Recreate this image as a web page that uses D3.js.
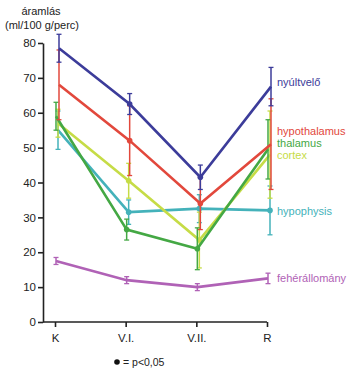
<!DOCTYPE html>
<html>
<head>
<meta charset="utf-8">
<script src="https://cdn.jsdelivr.net/npm/d3@7"></script>
<style>
  body { margin: 0; background: #fff; }
  svg { font-family: "Liberation Sans", Arial, sans-serif; }
</style>
</head>
<body>
<div id="chart"></div>
<script>
// time points
const categories = ["K", "V.I.", "V.II.", "R"];
const yTicks = [0, 10, 20, 30, 40, 50, 60, 70, 80];

// means and error (± values) per region
const seriesNames = ["fehérállomány", "hypophysis", "cortex", "thalamus", "hypothalamus", "nyúltvelő"];
const feherMean = [17.5, 12, 10, 12.5];
const feherErr = [1, 1, 1, 1.5];
const hypophysisMean = [55, 31.5, 32.5, 32];
const hypophysisErr = [5.5, 3.5, 4, 7];
const cortexMean = [57, 40.5, 23.5, 48];
const cortexErr = [4, 5, 8, 12.5];
const thalamusMean = [59, 26.5, 21, 49.5];
const thalamusErr = [4, 3, 6, 8.5];
const hypothalamusMean = [68, 52, 34, 51];
const hypothalamusErr = [10, 10, 7.5, 13];
const nyultveloMean = [78.5, 62.5, 41.5, 67.5];
const nyultveloErr = [4, 3, 3.5, 5.5];
// significance dots (p<0,05)
const feherSig = [0, 0, 0, 0];
const hypophysisSig = [0, 1, 1, 1];
const cortexSig = [0, 1, 1, 0];
const thalamusSig = [0, 1, 1, 0];
const hypothalamusSig = [0, 1, 1, 0];
const nyultveloSig = [0, 1, 1, 0];

const series = [
  { name: seriesNames[0], mean: feherMean, err: feherErr, sig: feherSig, color: "#b062b6", dx: 1, labelY: 278 },
  { name: seriesNames[1], mean: hypophysisMean, err: hypophysisErr, sig: hypophysisSig, color: "#44b2ba", dx: 3, labelY: 211 },
  { name: seriesNames[2], mean: cortexMean, err: cortexErr, sig: cortexSig, color: "#c6dc46", dx: 3, labelY: 155 },
  { name: seriesNames[3], mean: thalamusMean, err: thalamusErr, sig: thalamusSig, color: "#44a844", dx: 1, labelY: 143 },
  { name: seriesNames[4], mean: hypothalamusMean, err: hypothalamusErr, sig: hypothalamusSig, color: "#e2483c", dx: 4, labelY: 131 },
  { name: seriesNames[5], mean: nyultveloMean, err: nyultveloErr, sig: nyultveloSig, color: "#3c3c9a", dx: 4, labelY: 82 }
];

const width = 350, height = 380;
const svg = d3.select("#chart").append("svg")
  .attr("width", width)
  .attr("height", height);

const x = d3.scalePoint().domain(categories).range([55, 267]);
const y = d3.scaleLinear().domain([0, 80]).range([322, 43]);

// axes
const axisColor = "#222";
const yAxis = svg.append("g")
  .attr("transform", "translate(43,0)")
  .call(d3.axisLeft(y).tickValues(yTicks).tickSize(5).tickSizeOuter(0));
const xAxis = svg.append("g")
  .attr("transform", "translate(0,322)")
  .call(d3.axisBottom(x).tickSize(5).tickSizeOuter(0));
svg.append("line")
  .attr("x1", 43).attr("x2", 267)
  .attr("y1", 322).attr("y2", 322)
  .attr("stroke", axisColor).attr("stroke-width", 1.6);
xAxis.select(".domain").remove();
[yAxis, xAxis].forEach(g => {
  g.selectAll(".domain, line").attr("stroke", axisColor).attr("stroke-width", 1.6);
  g.selectAll("text").attr("fill", "#222").style("font-size", "11.5px");
});
yAxis.selectAll("text").attr("x", -7);
xAxis.selectAll("text").attr("y", 12);

// y label
svg.append("text").attr("x", 41).attr("y", 15).attr("text-anchor", "middle")
  .style("font-size", "11px").attr("fill", "#222").text("áramlás");
svg.append("text").attr("x", 42).attr("y", 29).attr("text-anchor", "middle")
  .style("font-size", "11px").attr("fill", "#222").text("(ml/100 g/perc)");

const line = d3.line()
  .x((d, i) => d.x)
  .y(d => y(d.v));

series.forEach(s => {
  const g = svg.append("g");
  const pts = s.mean.map((v, i) => ({ x: x(categories[i]) + s.dx, v, e: s.err[i], sig: s.sig[i] }));
  g.append("path")
    .attr("d", line(pts))
    .attr("fill", "none")
    .attr("stroke", s.color)
    .attr("stroke-width", 2.6)
    .attr("stroke-linejoin", "miter");
  pts.forEach(p => {
    g.append("line")
      .attr("x1", p.x).attr("x2", p.x)
      .attr("y1", y(p.v - p.e)).attr("y2", y(p.v + p.e))
      .attr("stroke", s.color).attr("stroke-width", 1.5);
    [p.v - p.e, p.v + p.e].forEach(c => {
      g.append("line")
        .attr("x1", p.x - 2.5).attr("x2", p.x + 2.5)
        .attr("y1", y(c)).attr("y2", y(c))
        .attr("stroke", s.color).attr("stroke-width", 1.3);
    });
    if (p.sig) {
      g.append("circle").attr("cx", p.x).attr("cy", y(p.v)).attr("r", 2.8).attr("fill", s.color);
    }
  });
  svg.append("text")
    .attr("x", 277).attr("y", s.labelY)
    .attr("dy", "0.35em")
    .style("font-size", "11px")
    .attr("fill", s.color)
    .text(s.name);
});

// footnote
svg.append("circle").attr("cx", 117).attr("cy", 362).attr("r", 2.8).attr("fill", "#111");
svg.append("text").attr("x", 123).attr("y", 362).attr("dy", "0.35em")
  .style("font-size", "10.5px").attr("fill", "#222").text("= p<0,05");
</script>
</body>
</html>
